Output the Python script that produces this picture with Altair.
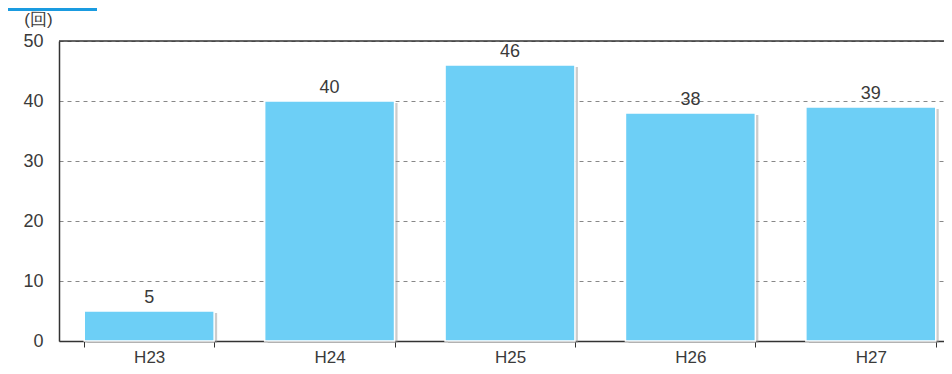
import altair as alt
import pandas as pd

years = ["H23", "H24", "H25", "H26", "H27"]
counts = [5, 40, 46, 38, 39]
y_ticks = [0, 10, 20, 30, 40, 50]

df = pd.DataFrame({"year": years, "count": counts})

FONT = "Liberation Sans"
TXT = "#3a3a3a"
x_enc = alt.X("year:N", sort=years,
              scale=alt.Scale(paddingInner=0.28, paddingOuter=0.14, range=[0, 902]),
              axis=alt.Axis(title=None, labelFontSize=17, labelColor=TXT, labelFont=FONT,
                            tickBand="extent", tickSize=6, tickColor="#333", domainColor="#333",
                            domainWidth=1.5, labelPadding=2, labelAngle=0, grid=False))
y_enc = alt.Y("count:Q", scale=alt.Scale(domain=[0, 50], nice=False),
              axis=alt.Axis(values=y_ticks, title="(回)", titleAngle=0, titleX=-21, titleY=-13,
                            titleFontSize=17, titleFontWeight="normal", titleColor=TXT, titleFont=FONT,
                            labelFontSize=18, labelColor=TXT, labelFont=FONT, ticks=False,
                            labelPadding=16, domainColor="#333", domainWidth=1.5,
                            grid=True, gridDash=[4, 4], gridColor="#888", gridWidth=1))

base = alt.Chart(df)

shadow = base.mark_bar(color="#999", opacity=0.5, xOffset=3, yOffset=2).encode(x=x_enc, y=y_enc)
bars = base.mark_bar(color="#6dcff6", stroke="white", strokeWidth=1.5).encode(x=x_enc, y=y_enc)
labels = base.mark_text(baseline="bottom", dy=-4, fontSize=18, color=TXT, font=FONT).encode(
    x=x_enc, y=y_enc, text="count:Q")

top_border = alt.Chart(pd.DataFrame({"a": [0]})).mark_rule(color="#333", strokeWidth=1.5, clip=False).encode(
    x=alt.value(0), x2=alt.value(902), y=alt.value(0))

accent = alt.Chart(pd.DataFrame({"a": [0]})).mark_rule(color="#1a9be0", strokeWidth=3, clip=False).encode(
    x=alt.value(-51), x2=alt.value(38), y=alt.value(-31.5))

chart = alt.layer(shadow, bars, labels, top_border, accent).properties(
    width=885, height=300,
    autosize=alt.AutoSizeParams(type="none"),
    padding={"left": 51, "top": 33, "right": 0, "bottom": 25},
).configure_view(stroke=None)

chart.save("out.html", embed_options={"renderer": "svg", "actions": False})
